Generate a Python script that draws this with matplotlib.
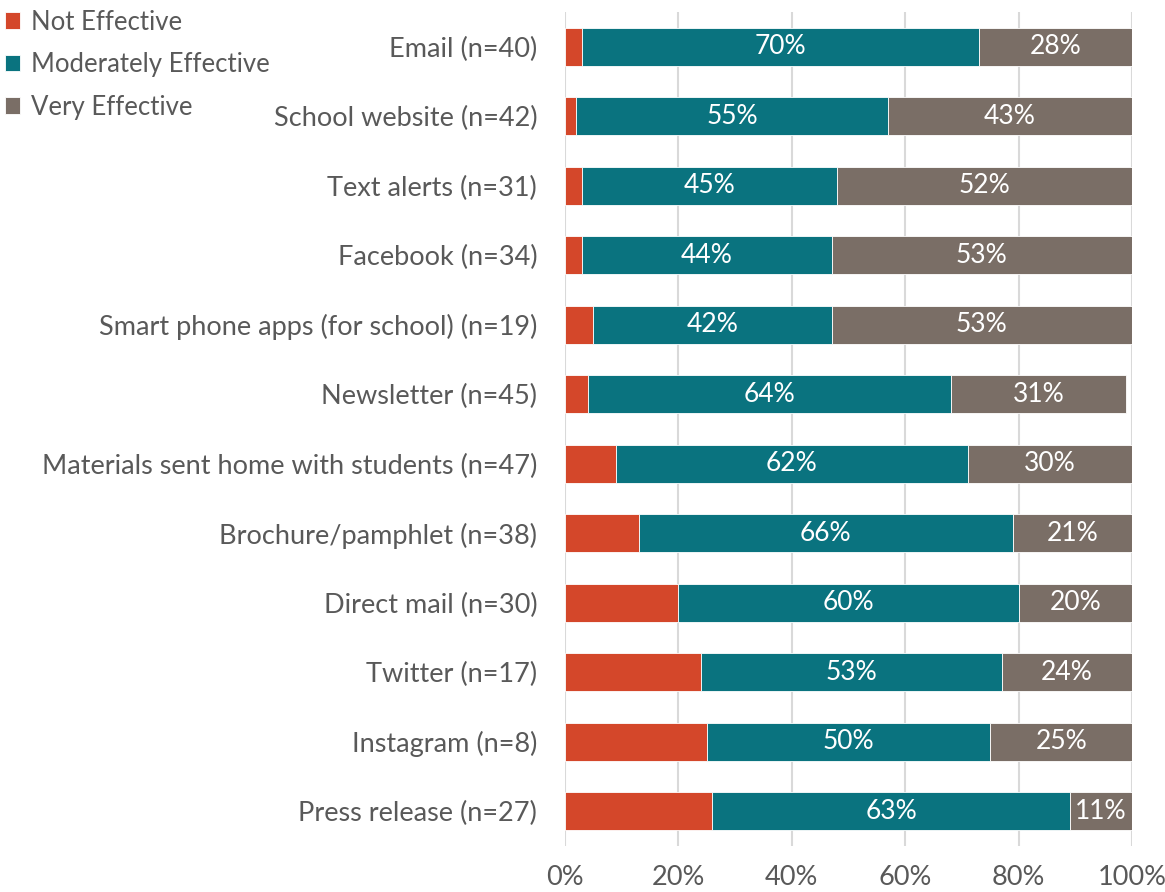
import matplotlib.pyplot as plt
import numpy as np

plt.rcParams['font.family'] = ['Lato', 'DejaVu Sans']

categories = ["Email (n=40)", "School website (n=42)", "Text alerts (n=31)",
              "Facebook (n=34)", "Smart phone apps (for school) (n=19)",
              "Newsletter (n=45)", "Materials sent home with students (n=47)",
              "Brochure/pamphlet (n=38)", "Direct mail (n=30)", "Twitter (n=17)",
              "Instagram (n=8)", "Press release (n=27)"]
not_effective = [3, 2, 3, 3, 5, 4, 9, 13, 20, 24, 25, 26]
moderately = [70, 55, 45, 44, 42, 64, 62, 66, 60, 53, 50, 63]
very = [28, 43, 52, 53, 53, 31, 30, 21, 20, 24, 25, 11]

c_not = "#D4472A"
c_mod = "#0A737F"
c_very = "#7A6E66"
txt = "#595959"

fig = plt.figure(figsize=(11.65, 8.92), dpi=100)
ax = fig.add_axes([0.485, 0.0516, 0.4867, 0.935])

y = np.arange(len(categories))
ne = np.array(not_effective)
me = np.array(moderately)
ve = np.array(very)
h = 0.55
kw = dict(height=h, edgecolor="white", linewidth=0.6, zorder=3)
b1 = ax.barh(y, ne, color=c_not, label="Not Effective", **kw)
b2 = ax.barh(y, me, left=ne, color=c_mod, label="Moderately Effective", **kw)
b3 = ax.barh(y, ve, left=ne + me, color=c_very, label="Very Effective", **kw)

for bars, vals in ((b2, me), (b3, ve)):
    ax.bar_label(bars, labels=[f"{v}%" for v in vals], label_type="center",
                 color="white", fontsize=19)

ax.set_xlim(0, 100)
ax.set_ylim(len(categories) - 0.5, -0.5)
ax.set_xticks(np.arange(0, 101, 20))
ax.set_xticklabels([f"{v}%" for v in range(0, 101, 20)])
ax.set_yticks(y)
ax.set_yticklabels(categories)
ax.tick_params(axis="both", length=0, labelsize=19.5, colors=txt)
ax.tick_params(axis="x", pad=14)
ax.tick_params(axis="y", pad=20)
ax.grid(axis="x", color="#D9D9D9", linewidth=1.5, zorder=0)
for s in ax.spines.values():
    s.set_visible(False)

fig.legend(handles=[b1, b2, b3], loc="upper left", bbox_to_anchor=(0.002, 0.992),
           frameon=False, fontsize=18.5, labelcolor=txt, handlelength=0.6,
           handleheight=0.6, handletextpad=0.4, labelspacing=0.68,
           borderaxespad=0.0, borderpad=0.1)

fig.savefig("out.png", dpi=100)
